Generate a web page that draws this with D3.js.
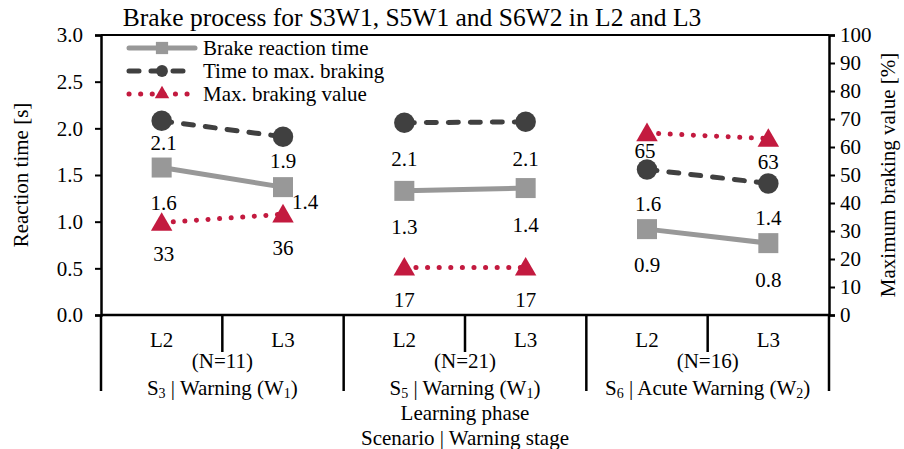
<!DOCTYPE html>
<html>
<head>
<meta charset="utf-8">
<script src="https://cdn.jsdelivr.net/npm/d3@7"></script>
<style>
  html, body { margin: 0; padding: 0; background: #fff; }
  svg, svg text { font-family: "Liberation Serif", "Times New Roman", serif; fill: #000; }
</style>
</head>
<body>
<svg id="chart" width="904" height="449"></svg>
<script>
// ---- data ----
const phases = ["L2", "L3"];
const scenarioNo = ["3", "5", "6"];
const warningName = ["Warning", "Warning", "Acute Warning"];
const warningStage = ["1", "1", "2"];
const groupN = [11, 21, 16];

// one value per (scenario, phase): S3-L2, S3-L3, S5-L2, S5-L3, S6-L2, S6-L3
const reactionTime = [1.58, 1.37, 1.33, 1.36, 0.92, 0.77];
const timeToMax    = [2.08, 1.91, 2.06, 2.07, 1.56, 1.41];
const maxBraking   = [33, 36, 17, 17, 65, 63];

const leftTicks  = [0, 0.5, 1.0, 1.5, 2.0, 2.5, 3.0];
const rightTicks = [0, 10, 20, 30, 40, 50, 60, 70, 80, 90, 100];

const seriesNames = ["Brake reaction time", "Time to max. braking", "Max. braking value"];

// ---- layout ----
const FONT = "Liberation Serif";
const FS = "21px";
const svg = d3.select("#chart");
const M = { left: 101, right: 829, top: 35, bottom: 315 };

const points = d3.range(scenarioNo.length * phases.length);
const x = d3.scaleBand().domain(points).range([M.left, M.right]);
const cx = i => x(i) + x.bandwidth() / 2;
const yL = d3.scaleLinear().domain([0, 3]).range([M.bottom, M.top]);
const yR = d3.scaleLinear().domain([0, 100]).range([M.bottom, M.top]);

const colGray = "#989898", colDark = "#404040", colRed = "#C31A3F";

// label nudges below each marker [dx, dy]
const nudgeRT  = [[2, 42], [22, 22], [0, 43], [0, 44], [0, 43], [0, 44]];
const nudgeTTM = [[2, 29], [0, 31], [0, 43], [0, 44], [1, 42], [0, 42]];
const nudgeMB  = [[2, 38], [0, 41], [0, 40], [0, 40], [-2, 25], [0, 30]];

function txt(sel) {
  return sel.style("font-family", FONT).style("font-size", FS).attr("fill", "#000");
}

// ---- frame & axes ----
svg.append("line").attr("x1", M.left).attr("x2", M.right).attr("y1", M.top).attr("y2", M.top)
  .attr("stroke", "#000").attr("stroke-width", 2);

const axL = svg.append("g").attr("transform", `translate(${M.left},0)`)
  .call(d3.axisLeft(yL).tickValues(leftTicks).tickFormat(d3.format(".1f")).tickSize(6).tickPadding(12));
const axR = svg.append("g").attr("transform", `translate(${M.right},0)`)
  .call(d3.axisRight(yR).tickValues(rightTicks).tickFormat(d3.format("d")).tickSize(6).tickPadding(5));
[axL, axR].forEach(a => {
  a.attr("font-family", FONT);
  a.select(".domain").attr("stroke", "#000").attr("stroke-width", 2.5);
  a.selectAll(".tick line").attr("stroke", "#000").attr("stroke-width", 2);
  txt(a.selectAll(".tick text"));
});

// x baseline
svg.append("line").attr("x1", M.left).attr("x2", M.right).attr("y1", M.bottom).attr("y2", M.bottom)
  .attr("stroke", "#000").attr("stroke-width", 2.5);

// multi-level category separators
const groupEdges = d3.range(scenarioNo.length + 1).map(g => g === scenarioNo.length ? M.right : x(g * phases.length));
svg.selectAll(".gsep").data(groupEdges).join("line")
  .attr("x1", d => d).attr("x2", d => d).attr("y1", M.bottom).attr("y2", 391)
  .attr("stroke", "#000").attr("stroke-width", 2.5);
svg.selectAll(".psep").data(d3.range(scenarioNo.length)).join("line")
  .attr("x1", g => x(g * phases.length + 1)).attr("x2", g => x(g * phases.length + 1))
  .attr("y1", M.bottom).attr("y2", 352)
  .attr("stroke", "#000").attr("stroke-width", 2.5);

// phase labels
txt(svg.selectAll(".phase").data(points).join("text"))
  .attr("x", i => cx(i)).attr("y", 347).attr("text-anchor", "middle")
  .text(i => phases[i % phases.length]);

// group labels
scenarioNo.forEach((s, g) => {
  const gx = (groupEdges[g] + groupEdges[g + 1]) / 2;
  txt(svg.append("text")).attr("x", gx).attr("y", 368).attr("text-anchor", "middle")
    .text(`(N=${groupN[g]})`);
  const t = txt(svg.append("text")).attr("x", gx).attr("y", 395).attr("text-anchor", "middle");
  t.append("tspan").text("S");
  t.append("tspan").attr("dy", 3).style("font-size", "14px").text(s);
  t.append("tspan").attr("dy", -3).text(` | ${warningName[g]} (W`);
  t.append("tspan").attr("dy", 3).style("font-size", "14px").text(warningStage[g]);
  t.append("tspan").attr("dy", -3).text(")");
});

// axis titles
const xMid = (M.left + M.right) / 2;
txt(svg.append("text")).attr("x", xMid).attr("y", 420).attr("text-anchor", "middle")
  .text("Learning phase");
txt(svg.append("text")).attr("x", xMid).attr("y", 445).attr("text-anchor", "middle")
  .text("Scenario | Warning stage");
txt(svg.append("text")).attr("transform", `translate(28,${(M.top + M.bottom) / 2}) rotate(-90)`)
  .attr("text-anchor", "middle").text("Reaction time [s]");
txt(svg.append("text")).attr("transform", `translate(895,${(M.top + M.bottom) / 2}) rotate(-90)`)
  .attr("text-anchor", "middle").text("Maximum braking value [%]");

// title
txt(svg.append("text")).attr("x", 412).attr("y", 26).attr("text-anchor", "middle")
  .style("font-size", "25.5px").text("Brake process for S3W1, S5W1 and S6W2 in L2 and L3");

// ---- series ----
const groupsIdx = d3.range(scenarioNo.length).map(g => [g * phases.length, g * phases.length + 1]);

function drawLines(values, scale, stroke, dash) {
  const line = d3.line().x(i => cx(i)).y(i => scale(values[i]));
  svg.append("g").selectAll("path").data(groupsIdx).join("path")
    .attr("d", line).attr("fill", "none").attr("stroke", stroke).attr("stroke-width", 5)
    .attr("stroke-linecap", "round").attr("stroke-dasharray", dash);
}
drawLines(reactionTime, yL, colGray, null);
drawLines(timeToMax, yL, colDark, "10,12");
drawLines(maxBraking, yR, colRed, "0.1,11.5");

const sq = d3.symbol().type(d3.symbolSquare).size(400);
const ci = d3.symbol().type(d3.symbolCircle).size(330);
const tr = d3.symbol().type(d3.symbolTriangle).size(200);

svg.append("g").selectAll("path").data(points).join("path")
  .attr("d", sq).attr("transform", i => `translate(${cx(i)},${yL(reactionTime[i])})`).attr("fill", colGray);
svg.append("g").selectAll("path").data(points).join("path")
  .attr("d", ci).attr("transform", i => `translate(${cx(i)},${yL(timeToMax[i])})`).attr("fill", colDark);
svg.append("g").selectAll("path").data(points).join("path")
  .attr("d", tr).attr("transform", i => `translate(${cx(i)},${yR(maxBraking[i]) + 2})`).attr("fill", colRed);

// value labels
const f1 = d3.format(".1f");
function drawLabels(values, scale, fmt, nudge) {
  txt(svg.append("g").selectAll("text").data(points).join("text"))
    .attr("x", i => cx(i) + nudge[i][0]).attr("y", i => scale(values[i]) + nudge[i][1])
    .attr("text-anchor", "middle")
    .text(i => fmt(values[i]));
}
drawLabels(reactionTime, yL, f1, nudgeRT);
drawLabels(timeToMax, yL, f1, nudgeTTM);
drawLabels(maxBraking, yR, d3.format("d"), nudgeMB);

// ---- legend ----
const legend = svg.append("g").attr("transform", "translate(127,48)");
const legendStyles = [
  { stroke: colGray, dash: null, sym: d3.symbol().type(d3.symbolSquare).size(150) },
  { stroke: colDark, dash: "10,12", sym: d3.symbol().type(d3.symbolCircle).size(110) },
  { stroke: colRed, dash: "0.1,11.5", sym: d3.symbol().type(d3.symbolTriangle).size(90) }
];
seriesNames.forEach((name, k) => {
  const row = legend.append("g").attr("transform", `translate(0,${k * 23})`);
  const st = legendStyles[k];
  row.append("line").attr("x1", 2).attr("x2", 68).attr("y1", 0).attr("y2", 0)
    .attr("stroke", st.stroke).attr("stroke-width", 5).attr("stroke-linecap", "round")
    .attr("stroke-dasharray", st.dash);
  row.append("path").attr("d", st.sym).attr("transform", "translate(35,0)").attr("fill", st.stroke);
  txt(row.append("text")).attr("x", 76).attr("y", 7).text(name);
});
</script>
</body>
</html>
